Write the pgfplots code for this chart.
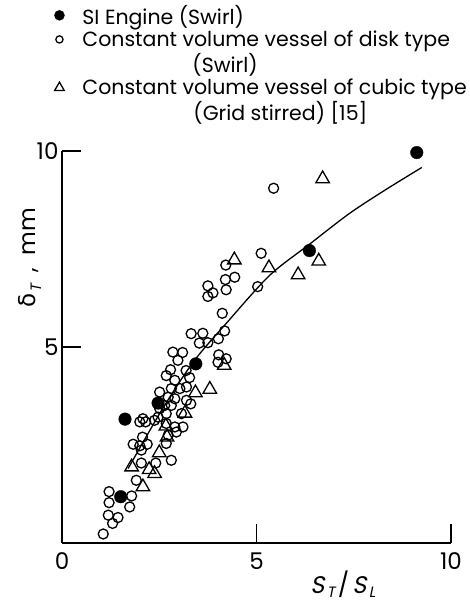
\documentclass[border=0pt]{standalone}
\usepackage{fontspec}
\setmainfont{Poppins}
\newfontfamily\grfont{DejaVu Sans}
\newfontfamily\slfont{Poppins}[FakeSlant=0.2]
\usepackage{pgfplots}
\pgfplotsset{compat=1.18}
\pgfplotstableread{
x y
1.51 1.18
1.62 3.16
2.47 3.57
3.44 4.57
6.36 7.46
9.12 9.96
}\siengine
\pgfplotstableread{
x y
5.44 9.05
5.12 7.39
5.03 6.54
4.21 7.09
4.20 6.72
4.44 6.78
4.22 6.46
3.75 6.56
3.88 6.38
3.75 6.29
4.12 5.86
4.18 5.41
4.02 5.21
3.32 5.34
3.62 5.35
3.53 5.10
3.75 5.11
2.85 4.87
3.10 4.86
2.98 4.66
4.03 4.80
4.22 4.70
4.01 4.61
2.79 4.42
2.68 4.27
2.90 4.15
3.19 4.40
3.28 4.22
3.20 3.98
3.03 3.94
2.81 3.94
2.51 3.85
2.73 3.72
2.90 3.68
3.20 3.64
3.31 3.55
2.51 3.43
2.68 3.30
2.81 3.51
2.64 3.51
3.07 3.30
3.11 2.96
2.38 3.13
2.08 3.17
2.00 3.09
2.15 3.09
2.47 3.21
2.68 3.05
2.90 2.96
2.94 2.83
2.73 2.75
2.07 2.70
1.83 2.52
2.00 2.48
2.19 2.52
2.04 2.37
2.68 2.54
2.81 2.11
2.41 2.04
2.04 2.04
1.91 1.60
1.79 1.20
1.74 0.92
1.21 1.31
1.21 1.03
1.19 0.71
1.44 0.65
1.30 0.50
1.06 0.23
}\disk
\pgfplotstableread{
x y
6.70 9.29
6.60 7.19
6.07 6.84
5.32 7.02
4.43 7.22
4.17 4.53
3.80 3.92
3.43 3.83
3.16 3.31
2.67 2.98
2.70 2.70
2.50 2.30
2.38 1.77
2.24 1.87
1.79 1.94
2.08 1.43
}\cubic
\pgfplotstableread{
x y
1.70 1.90
2.60 3.45
3.40 4.65
4.22 5.60
5.33 6.82
6.36 7.62
7.38 8.40
8.30 9.00
9.25 9.58
}\fit
\begin{document}
\begin{tikzpicture}
\path[use as bounding box] (0,0) rectangle (469pt,602pt);
\begin{axis}[
  at={(62pt,59pt)}, anchor=south west,
  scale only axis, width=389pt, height=392pt,
  xmin=0, xmax=10, ymin=0, ymax=10,
  axis x line*=bottom, axis y line*=left,
  axis line style={line width=1.2pt},
  xtick={0,5,10}, ytick={5,10},
  tick align=inside, major tick length=19pt,
  tick style={line width=1.2pt, black},
  tick label style={font=\fontsize{23}{26}\selectfont},
  xticklabel style={yshift=-6pt},
  /pgf/number format/assume math mode=true,
  clip=false,
  xlabel={{\slfont S\kern2.5pt}\raisebox{-0.2em}{\fontsize{15}{15}\slfont T}\kern3pt/\kern3pt{\slfont S\kern2.5pt}\raisebox{-0.2em}{\fontsize{15}{15}\slfont L}},
  xlabel style={at={(axis description cs:0.722,-0.105)}, anchor=center, font=\fontsize{24}{26}\selectfont},
  ylabel={{\grfont δ\kern1pt}\raisebox{-0.25em}{\fontsize{15}{15}\slfont T}\ \ ,\ \ mm},
  ylabel style={at={(axis description cs:-0.082,0.727)}, anchor=center, rotate=0, font=\fontsize{23}{26}\selectfont},
  legend style={at={(axis description cs:-0.029,1.378)}, anchor=north west, draw=none, fill=none,
    font=\fontsize{20.5}{24}\selectfont, row sep=1.2pt, column sep=16pt, inner sep=0pt},
  legend cell align=left,
]
\addplot[only marks, mark=*, mark size=6.3pt, black, legend image post style={mark size=5pt}] table {\siengine};
\addlegendentry{SI Engine (Swirl)}
\addplot[only marks, mark=o, mark size=5pt, line width=1.3pt, black, legend image post style={mark size=3.6pt}] table {\disk};
\addlegendentry{Constant volume vessel of disk type}
\addlegendimage{empty legend}
\addlegendentry{\hspace{110pt}(Swirl)}
\addplot[only marks, mark=triangle, mark size=7.8pt, line width=1.3pt, black, legend image post style={mark size=5.5pt}] table {\cubic};
\addlegendentry{Constant volume vessel of cubic type}
\addlegendimage{empty legend}
\addlegendentry{\hspace{111pt}(Grid stirred) [15]}
\addplot[smooth, line width=1.3pt, black, forget plot] table {\fit};
\end{axis}
\end{tikzpicture}
\end{document}
